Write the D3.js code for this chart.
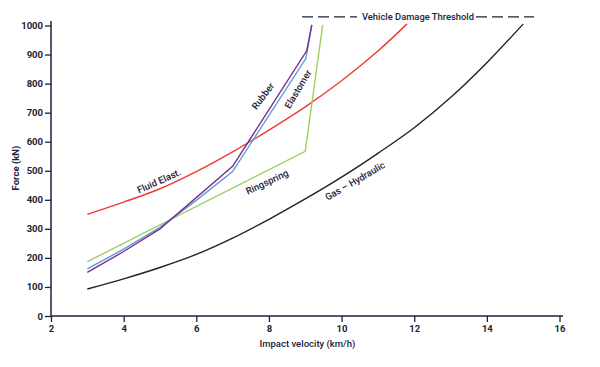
<!DOCTYPE html>
<html><head><meta charset="utf-8">
<script src="https://cdn.jsdelivr.net/npm/d3@7"></script>
<style>
body{margin:0;background:#fff;}
text{font-family:Roboto,"DejaVu Sans",sans-serif;}
</style></head>
<body><svg id="c" width="600" height="367"></svg>
<script>
const xTicks = [2,4,6,8,10,12,14,16];
const yTicks = [0,100,200,300,400,500,600,700,800,900,1000];
const gasHydraulic = [[3,93],[4,128],[5,167],[6,212],[7,268],[8,333],[9,403],[10,478],[11,560],[12,648],[13,752],[14,872],[15,1005]];
const fluidElast = [[3,350],[4,392],[5,438],[6,497],[7,565],[8,640],[9,720],[10,810],[11,912],[11.8,1005]];
const rubber = [[3,150],[4,222],[5,300],[7,515],[9.04,913],[9.18,1002]];
const elastomer = [[3,162],[4,230],[5,305],[6,398],[7,497],[9.02,887],[9.18,1002]];
const ringspring = [[3,187],[9,567],[9.48,1002]];
const thresholdValue = 1030;
const thresholdLabel = "Vehicle Damage Threshold";

const svg = d3.select("#c");
const x = d3.scaleLinear().domain([2,16]).range([51,559.5]);
const y = d3.scaleLinear().domain([0,1000]).range([316,25.5]);
const ink = "#1c2238";

// axes
const gx = svg.append("g").attr("transform","translate(0,316)")
  .call(d3.axisBottom(x).tickValues(xTicks).tickFormat(d3.format("d")).tickSize(6).tickPadding(3).tickSizeOuter(0));
const gy = svg.append("g").attr("transform","translate(51,0)")
  .call(d3.axisLeft(y).tickValues(yTicks).tickFormat(d3.format("d")).tickSize(6).tickPadding(2).tickSizeOuter(0));
[gx,gy].forEach(g=>{
  g.select(".domain").remove();
  g.selectAll("line").attr("stroke",ink).attr("stroke-width",1.3);
  g.selectAll("text").attr("fill",ink).style("font-size","9.5px").style("font-weight","700");
});
svg.append("line").attr("x1",51).attr("x2",563).attr("y1",316).attr("y2",316).attr("stroke",ink).attr("stroke-width",1.5);
svg.append("line").attr("x1",51).attr("x2",51).attr("y1",316).attr("y2",21).attr("stroke",ink).attr("stroke-width",1.5);

svg.append("text").attr("x",307.5).attr("y",347).attr("text-anchor","middle")
  .attr("fill",ink).style("font-size","9.5px").style("font-weight","500").text("Impact velocity (km/h)");
svg.append("text").attr("transform","translate(19,168) rotate(-90)").attr("text-anchor","middle")
  .attr("fill",ink).style("font-size","9.5px").style("font-weight","700").text("Force (kN)");

// curves
const smooth = d3.line().x(d=>x(d[0])).y(d=>y(d[1])).curve(d3.curveMonotoneX);
const straight = d3.line().x(d=>x(d[0])).y(d=>y(d[1])).curve(d3.curveLinear);
const series = [
  {d:gasHydraulic, c:"#222222", gen:smooth},
  {d:fluidElast, c:"#ef3a2d", gen:smooth},
  {d:ringspring, c:"#9fcf5f", gen:straight},
  {d:elastomer, c:"#5f9bd6", gen:straight},
  {d:rubber, c:"#7a2e8e", gen:straight}
];
series.forEach(s=>{
  svg.append("path").attr("d",s.gen(s.d)).attr("fill","none").attr("stroke",s.c).attr("stroke-width",1.4);
});

// labels
const labels = [
  {t:"Fluid Elast.", x:159, y:181, a:-24},
  {t:"Ringspring", x:267, y:182, a:-25},
  {t:"Gas – Hydraulic", x:355, y:181, a:-30},
  {t:"Rubber", x:263, y:96, a:-53},
  {t:"Elastomer", x:298, y:89, a:-59}
];
labels.forEach(l=>{
  svg.append("text").attr("transform",`translate(${l.x},${l.y}) rotate(${l.a})`)
    .attr("text-anchor","middle").attr("dy","0.35em").attr("fill",ink)
    .style("font-size","9.5px").style("font-weight","500").text(l.t);
});

// threshold
const ty = y(thresholdValue);
svg.append("line").attr("x1",302).attr("x2",357).attr("y1",ty).attr("y2",ty)
  .attr("stroke",ink).attr("stroke-width",1.2).attr("stroke-dasharray","11,5");
svg.append("line").attr("x1",476).attr("x2",534).attr("y1",ty).attr("y2",ty)
  .attr("stroke",ink).attr("stroke-width",1.2).attr("stroke-dasharray","11,5");
svg.append("text").attr("x",362).attr("y",ty).attr("dy","0.35em").attr("fill",ink)
  .attr("textLength",112).attr("lengthAdjust","spacingAndGlyphs")
  .style("font-size","9.5px").style("font-weight","500").text(thresholdLabel);
</script></body></html>
